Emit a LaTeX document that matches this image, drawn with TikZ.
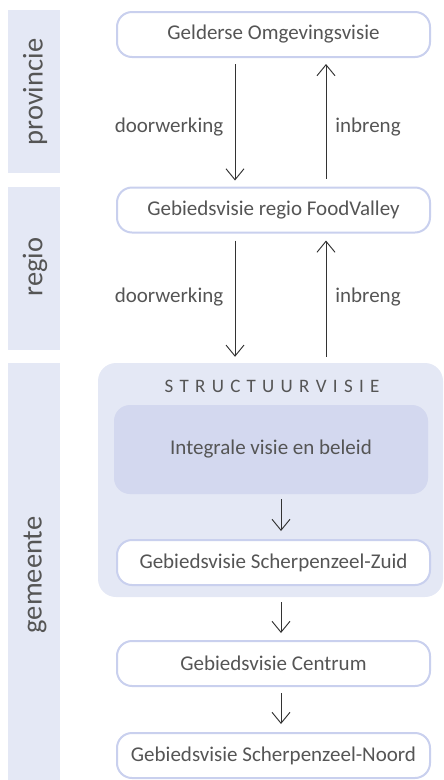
\documentclass[tikz,border=0pt]{standalone}
\usepackage{fontspec}
\setmainfont{Carlito}
\usetikzlibrary{arrows.meta,calc}
\definecolor{bandfill}{HTML}{E4E8F5}
\definecolor{boxline}{HTML}{C9D0EE}
\definecolor{innerfill}{HTML}{D3D8EF}
\definecolor{txt}{HTML}{555555}
\definecolor{arrc}{HTML}{333333}
\tikzset{
  band/.style={fill=bandfill},
  bandlabel/.style={rotate=90,text=txt,font=\fontsize{28.5}{30}\selectfont,inner sep=0},
  visbox/.style={draw=boxline,line width=2pt,fill=white,rounded corners=15pt,
    minimum width=313pt,minimum height=45pt,text=txt,font=\fontsize{21}{24}\selectfont,inner sep=0},
  lbl/.style={text=txt,font=\fontsize{21}{24}\selectfont,inner sep=0},
  arr/.style={draw=arrc,line width=0.95pt,-{Straight Barb[length=11pt,width=18pt,line width=0.95pt]}}
}
\begin{document}
\begin{tikzpicture}[x=1pt,y=-1pt]
\useasboundingbox (0,0) rectangle (444,780);
% bands
\fill[band] (8,10) rectangle (60,173);
\fill[band] (8,187) rectangle (60,350);
\fill[band] (8,363) rectangle (60,780);
\node[bandlabel] (lp) at (35,92) {provincie};
\node[bandlabel] (lr) at (35,267) {regio};
\node[bandlabel] (lg) at (35,575) {gemeente};
% container
\node[fill=bandfill,rounded corners=18pt,minimum width=345pt,minimum height=234pt,inner sep=0] (sv) at (270.5,480) {};
\node[text=txt,font=\fontsize{19}{22}\selectfont,inner sep=0] (svt) at (272,386)
  {S\kern6.3pt T\kern6.3pt R\kern6.3pt U\kern6.3pt C\kern6.3pt T\kern6.3pt U\kern6.3pt U\kern6.3pt R\kern6.3pt V\kern6.3pt I\kern6.3pt S\kern6.3pt I\kern6.3pt E};
\node[fill=innerfill,rounded corners=16pt,minimum width=314pt,minimum height=89pt,inner sep=0,
  text=txt,font=\fontsize{21}{24}\selectfont] (ib) at (271,449.5) {Integrale visie en beleid};
% boxes
\node[visbox] (g) at (273.5,34.5) {Gelderse Omgevingsvisie};
\node[visbox] (f) at (273.5,210) {Gebiedsvisie regio FoodValley};
\node[visbox] (z) at (273.5,562.5) {Gebiedsvisie Scherpenzeel-Zuid};
\node[visbox] (c) at (273.5,663.5) {Gebiedsvisie Centrum};
\node[visbox] (n) at (273.5,755.5) {Gebiedsvisie Scherpenzeel-Noord};
% arrows
\draw[arr] ($(g.south)+(-38.5,6)$) -- ($(f.north)+(-38.5,-6)$);
\draw[arr] ($(f.north)+(52.5,-8)$) -- ($(g.south)+(52.5,6)$);
\draw[arr] ($(f.south)+(-38.5,7)$) -- ($(sv.north)+(-35.5,-6)$);
\draw[arr] ($(sv.north)+(55.5,-6)$) -- ($(f.south)+(52.5,7)$);
\draw[arr] ($(ib.south)+(10,5)$) -- ($(z.north)+(7.5,-8)$);
\draw[arr] ($(sv.south)+(10.5,5)$) -- ($(c.north)+(7.5,-7)$);
\draw[arr] ($(c.south)+(7.5,6)$) -- ($(n.north)+(7.5,-8)$);
% labels
\node[lbl] (d1) at (169,127) {doorwerking};
\node[lbl] (i1) at (368,127) {inbreng};
\node[lbl] (d2) at (169,297) {doorwerking};
\node[lbl] (i2) at (368,297) {inbreng};
\end{tikzpicture}
\end{document}
